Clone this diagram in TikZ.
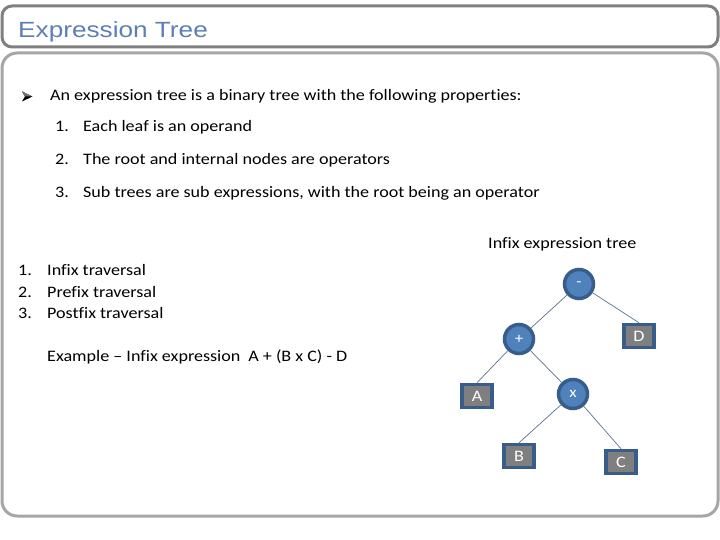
\documentclass[tikz,border=0pt]{standalone}
\usepackage{fontspec}
\setmainfont[FakeStretch=1.13,Ligatures=NoCommon]{Carlito}
\newfontfamily\titlefont[FakeStretch=1.19]{Liberation Sans}
\definecolor{titleblue}{HTML}{5B80B8}
\definecolor{opfill}{HTML}{4F81BD}
\definecolor{opline}{HTML}{385D8A}
\definecolor{leaffill}{HTML}{7F7F7F}
\definecolor{edgecol}{HTML}{5A7390}
\tikzset{
  x=1pt, y=-1pt,
  txt/.style={anchor=base west, inner sep=0pt, font=\fontsize{16}{18}\selectfont},
  opnode/.style={circle, fill=opfill, draw=opline, line width=3.5pt, minimum size=29pt, inner sep=0pt, text=white, font=\fontsize{15}{17}\selectfont},
  leafnode/.style={rectangle, fill=leaffill, draw=opline, line width=3.5pt, minimum width=30pt, minimum height=23pt, inner sep=0pt, text=white, font=\fontsize{16}{18}\selectfont},
  edge/.style={draw=edgecol, line width=0.7pt}
}
\begin{document}
\begin{tikzpicture}
\useasboundingbox (0,0) rectangle (720,540);
\fill[white] (0,0) rectangle (720,540);
% title box
\draw[draw=gray!100, line width=3pt, rounded corners=10pt] (2,6) rectangle (718,47);
\node[anchor=base west, inner sep=0pt, text=titleblue, font=\titlefont\fontsize{22}{24}\selectfont] (title) at (18,38) {Expression Tree};
% content box
\draw[draw=black!35, line width=3pt, rounded corners=15pt] (2,53) rectangle (718,516);
% bullet arrowhead
\fill[black] (22,91.5) -- (32.5,96.5) -- (22,101.5) -- (25,96.5) -- cycle;
\fill[black!55] (22,91.5) -- (32.5,96.5) -- (25,96.5) -- cycle;
\node[txt] (intro) at (50,101) {An expression tree is a binary tree with the following properties:};
\node[txt] (n1) at (55,132) {1.};
\node[txt] (p1) at (83,132) {Each leaf is an operand};
\node[txt] (n2) at (55,165) {2.};
\node[txt] (p2) at (83,165) {The root and internal nodes are operators};
\node[txt] (n3) at (55,197) {3.};
\node[txt] (p3) at (83,197) {Sub trees are sub expressions, with the root being an operator};
\node[txt] (cap) at (488,248) {Infix expression tree};
\node[txt] (l1n) at (18,275) {1.};
\node[txt] (l1) at (47,275) {Infix traversal};
\node[txt] (l2n) at (18,297) {2.};
\node[txt] (l2) at (47,297) {Prefix traversal};
\node[txt] (l3n) at (18,318) {3.};
\node[txt] (l3) at (47,318) {Postfix traversal};
\node[txt] (ex) at (47,361) {Example -- Infix expression\enspace A + (B x C) - D};
% tree
\node[opnode] (minus) at (579,284) {-};
\node[opnode] (plus) at (519,339) {+};
\node[opnode] (times) at (573,394) {x};
\node[leafnode] (D) at (639,336) {D};
\node[leafnode] (A) at (477,396) {A};
\node[leafnode] (B) at (519,456) {B};
\node[leafnode] (C) at (621,462) {C};
\draw[edge] (minus) -- (plus);
\draw[edge] (minus) -- (D.north);
\draw[edge] (plus) -- (A.north);
\draw[edge] (plus) -- (times);
\draw[edge] (times) -- (B.north);
\draw[edge] (times) -- (C.north);
\end{tikzpicture}
\end{document}
